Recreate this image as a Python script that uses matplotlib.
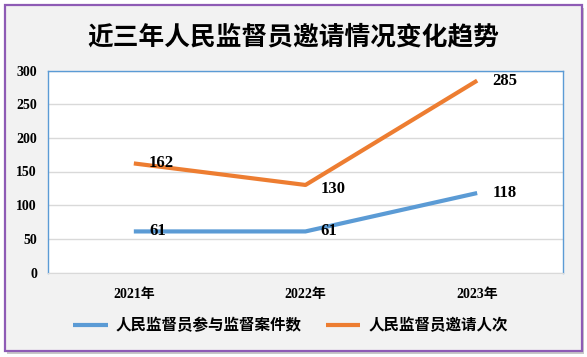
import matplotlib.pyplot as plt
from matplotlib.patches import Rectangle

plt.rcParams['font.family'] = ['Liberation Serif', 'Noto Sans CJK SC', 'DejaVu Sans']

# ================= 数据 =================
years = ["2021年", "2022年", "2023年"]
cases = [61, 61, 118]
invites = [162, 130, 285]
series_names = ["人民监督员参与监督案件数", "人民监督员邀请人次"]
title = "近三年人民监督员邀请情况变化趋势"

BLUE = "#5B9BD5"
ORANGE = "#ED7D31"

W, H = 587, 357
fig = plt.figure(figsize=(W / 100, H / 100), dpi=100)
fig.patch.set_facecolor("white")

# 外框 + 阴影
fig.patches.append(Rectangle((7 / W, 1 - 354 / H), 577 / W, 346 / H, transform=fig.transFigure,
                             facecolor="#C8C8C8", edgecolor="none", zorder=-2))
fig.patches.append(Rectangle((5 / W, 1 - 351 / H), 577 / W, 346 / H, transform=fig.transFigure,
                             facecolor="#F2F2F2", edgecolor="#8E5BB5", linewidth=1.6, zorder=-1))

ax = fig.add_axes([48 / W, 1 - 272.5 / H, (563 - 48) / W, (272.5 - 70.5) / H])
ax.set_facecolor("white")

x = list(range(len(years)))
l1, = ax.plot(x, cases, color=BLUE, linewidth=3, solid_capstyle="butt", label=series_names[0])
l2, = ax.plot(x, invites, color=ORANGE, linewidth=3, solid_capstyle="butt", label=series_names[1])

for xi, v in zip(x, cases):
    ax.annotate(str(v), (xi, v), xytext=(11, 0), textcoords="offset points",
                ha="left", va="center", fontsize=12, fontweight="bold", color="black")
for xi, v in zip(x, invites):
    dy = -3 if xi == 1 else 0
    ax.annotate(str(v), (xi, v), xytext=(11, dy), textcoords="offset points",
                ha="left", va="center", fontsize=12, fontweight="bold", color="black")

ax.set_xlim(-0.5, 2.5)
ax.set_ylim(0, 300)
ax.set_yticks(range(0, 301, 50))
ax.set_xticks(x)
ax.set_xticklabels(years)
ax.tick_params(axis="y", length=0, pad=8, labelsize=10)
ax.tick_params(axis="x", length=0, pad=11, labelsize=10)
for lab in ax.get_xticklabels() + ax.get_yticklabels():
    lab.set_fontweight("bold")

ax.grid(axis="y", color="#D9D9D9", linewidth=1)
ax.set_axisbelow(True)
for side in ["left", "top", "right"]:
    ax.spines[side].set_color(BLUE)
    ax.spines[side].set_linewidth(1)
ax.spines["bottom"].set_color("#D9D9D9")

fig.text(0.5, 1 - 37 / H, title, ha="center", va="center", fontsize=18.5, fontweight="bold",
         family=["Noto Sans CJK SC", "DejaVu Sans"])

fig.legend(handles=[l1, l2], loc="center", bbox_to_anchor=(0.495, 1 - 325 / H), ncol=2,
           frameon=False, handlelength=2.2, columnspacing=1.6, handletextpad=0.5,
           prop={"family": ["Noto Sans CJK SC", "DejaVu Sans"], "weight": "bold", "size": 11.2})

fig.savefig("out.png", dpi=100)
